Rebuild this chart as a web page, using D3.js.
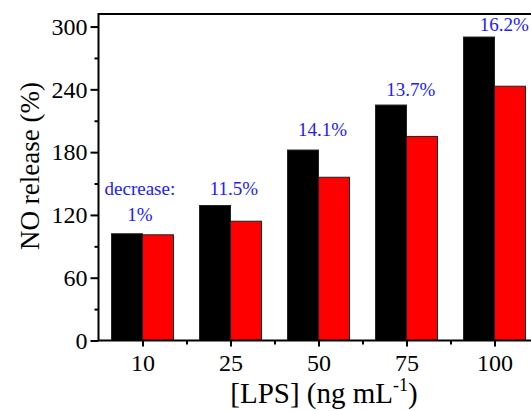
<!DOCTYPE html>
<html>
<head>
<meta charset="utf-8">
<script src="https://cdn.jsdelivr.net/npm/d3@7"></script>
<style>
  html, body { margin: 0; padding: 0; background: #fff; }
  svg { display: block; }
  svg text { font-family: "Liberation Serif", "Times New Roman", Times, serif; }
</style>
</head>
<body>
<svg id="chart" width="531" height="411"></svg>
<script>
// LPS concentration groups (ng/mL)
const categories = ["10", "25", "50", "75", "100"];
// NO release (%) without / with treatment
const control = [102, 129, 182, 225, 290];
const treated = [101, 114, 156, 195, 243];
// decrease annotations above each group
const labels = [["decrease:", "1%"], ["11.5%"], ["14.1%"], ["13.7%"], ["16.2%"]];
const labelAt = [139, 139, 195, 234, 296];
const yTicks = [0, 60, 120, 180, 240, 300];

const svg = d3.select("#chart");

const x = d3.scaleLinear().domain([0.5, 5.5]).range([98.5, 538.5]);
const y = d3.scaleLinear().domain([0, 312]).range([340.5, 14]);
const bw = 0.352; // bar width in category units

const g = svg.append("g");

// bars
const groups = g.selectAll("g.grp")
    .data(categories.map((c, i) => ({ c, i: i + 1, a: control[i], b: treated[i] })))
    .join("g").attr("class", "grp");

groups.append("rect")
    .attr("x", d => x(d.i - bw))
    .attr("width", d => x(d.i) - x(d.i - bw))
    .attr("y", d => y(d.a))
    .attr("height", d => y(0) - y(d.a))
    .attr("fill", "#000")
    .attr("stroke", "#222").attr("stroke-width", 1);

groups.append("rect")
    .attr("x", d => x(d.i))
    .attr("width", d => x(d.i + bw) - x(d.i))
    .attr("y", d => y(d.b))
    .attr("height", d => y(0) - y(d.b))
    .attr("fill", "#ff0000")
    .attr("stroke", "#222").attr("stroke-width", 1);

// annotations
const lblOffset = [-0.03, 0.04, 0.045, 0.05, 0.11];
labels.forEach((lines, i) => {
    const t = g.append("text")
        .attr("x", x(i + 1 + lblOffset[i]))
        .attr("y", y(labelAt[i]))
        .attr("text-anchor", "middle")
        .attr("font-size", 19)
        .attr("fill", "#2020ff");
    lines.forEach((s, k) => {
        t.append("tspan")
            .attr("x", x(i + 1 + lblOffset[i]))
            .attr("dy", k === 0 ? 0 : 26)
            .text(s);
    });
});

// y axis
const yAxis = d3.axisLeft(y).tickValues(yTicks).tickSize(8).tickPadding(3);
const ya = svg.append("g").attr("transform", `translate(${x(0.5)},0)`).call(yAxis);
ya.attr("font-family", null);
ya.select(".domain").remove();
ya.selectAll(".tick line").attr("stroke-width", 2);
ya.selectAll(".tick text").attr("font-size", 24).attr("fill", "#000");
const yMinor = d3.axisLeft(y).tickValues(d3.range(30, 312, 60)).tickSize(4).tickFormat("");
const ym = svg.append("g").attr("transform", `translate(${x(0.5)},0)`).call(yMinor);
ym.select(".domain").remove();
ym.selectAll(".tick line").attr("stroke-width", 2);

// x axis
const xAxis = d3.axisBottom(x).tickValues(d3.range(1, 6)).tickSize(6).tickPadding(7)
    .tickFormat(d => categories[d - 1]);
const xa = svg.append("g").attr("transform", `translate(0,${y(0)})`).call(xAxis);
xa.attr("font-family", null);
xa.select(".domain").remove();
xa.selectAll(".tick line").attr("stroke-width", 2);
xa.selectAll(".tick text").attr("font-size", 24).attr("fill", "#000");
const xMinor = d3.axisBottom(x).tickValues(d3.range(1.5, 5.5, 1)).tickSize(4).tickFormat("");
const xm = svg.append("g").attr("transform", `translate(0,${y(0)})`).call(xMinor);
xm.select(".domain").remove();
xm.selectAll(".tick line").attr("stroke-width", 2);

// frame
svg.append("path")
    .attr("d", `M${x(5.5)},${y(312)}H${x(0.5)}V${y(0)}H${x(5.5)}`)
    .attr("fill", "none").attr("stroke", "#000").attr("stroke-width", 2);

// axis titles
svg.append("text")
    .attr("transform", `translate(38.5,166) rotate(-90)`)
    .attr("text-anchor", "middle")
    .attr("font-size", 27)
    .text("NO release (%)");

const xt = svg.append("text")
    .attr("x", 324).attr("y", 403)
    .attr("text-anchor", "middle")
    .attr("font-size", 29);
xt.append("tspan").text("[LPS] (ng mL");
xt.append("tspan").attr("font-size", 18).attr("dy", -12).text("-1");
xt.append("tspan").attr("dy", 12).text(")");
</script>
</body>
</html>
